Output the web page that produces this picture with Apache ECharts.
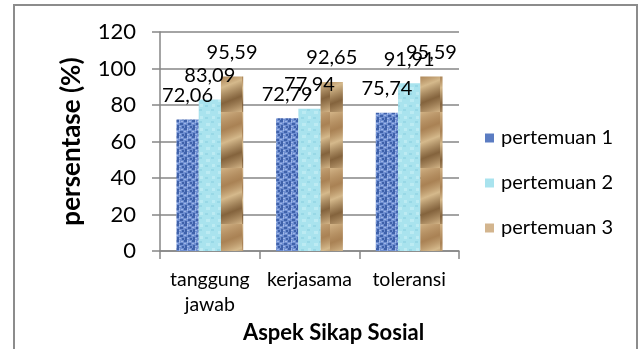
<!DOCTYPE html>
<html>
<head>
<meta charset="utf-8">
<script src="https://cdn.jsdelivr.net/npm/echarts@6/dist/echarts.min.js"></script>
<style>
  html, body { margin: 0; padding: 0; background: #ffffff; }
  #chart { width: 641px; height: 349px; }
</style>
</head>
<body>
<div id="chart"></div>
<script>
// ---- data ----
const categories = ['tanggung\njawab', 'kerjasama', 'toleransi'];
const seriesNames = ['pertemuan 1', 'pertemuan 2', 'pertemuan 3'];
const pertemuan1 = [72.06, 72.79, 75.74];
const pertemuan2 = [83.09, 77.94, 91.91];
const pertemuan3 = [95.59, 92.65, 95.59];
const yTicks = [0, 20, 40, 60, 80, 100, 120];

// ---- textures (decorative fills) ----
function makePattern(kind) {
  const c = document.createElement('canvas');
  if (kind === 'blue') {
    c.width = 8; c.height = 8;
    const g = c.getContext('2d');
    g.fillStyle = '#6f8fd2'; g.fillRect(0, 0, 8, 8);
    g.fillStyle = '#3f61aa';
    g.fillRect(0, 0, 3, 2); g.fillRect(4, 3, 3, 2); g.fillRect(1, 5, 2, 3); g.fillRect(6, 6, 2, 2);
    g.fillStyle = '#9db4e6';
    g.fillRect(3, 0, 1, 3); g.fillRect(0, 3, 2, 1); g.fillRect(5, 1, 2, 1); g.fillRect(3, 6, 2, 1);
  } else if (kind === 'cyan') {
    c.width = 12; c.height = 12;
    const g = c.getContext('2d');
    g.fillStyle = '#a9e3ee'; g.fillRect(0, 0, 12, 12);
    g.fillStyle = '#bcebf3'; g.fillRect(2, 3, 4, 3); g.fillRect(8, 8, 3, 3);
    g.fillStyle = '#98d8e6'; g.fillRect(7, 1, 3, 2); g.fillRect(1, 9, 3, 2);
  } else {
    c.width = 22; c.height = 56;
    const g = c.getContext('2d');
    g.fillStyle = '#b89163'; g.fillRect(0, 0, 22, 56);
    const grd = g.createLinearGradient(0, 0, 22, 56);
    grd.addColorStop(0, 'rgba(215,185,140,0.9)');
    grd.addColorStop(0.3, 'rgba(160,120,75,0.6)');
    grd.addColorStop(0.5, 'rgba(220,195,150,0.8)');
    grd.addColorStop(0.75, 'rgba(110,80,45,0.7)');
    grd.addColorStop(1, 'rgba(215,185,140,0.9)');
    g.fillStyle = grd; g.fillRect(0, 0, 22, 56);
  }
  return { image: c, repeat: 'repeat' };
}
const fills = [makePattern('blue'), makePattern('cyan'), makePattern('tan')];
const legendColors = ['#5b7cc2', '#a9e3ee', '#d3b58e'];

const fmt = p => p.value.toFixed(2).replace('.', ',');
const FONT = 'Lato';
const seriesData = [pertemuan1, pertemuan2, pertemuan3];

const chart = echarts.init(document.getElementById('chart'), null, { renderer: 'canvas' });
chart.setOption({
  animation: false,
  textStyle: { fontFamily: FONT, color: '#000' },
  graphic: [{
    type: 'rect', left: 13, top: 4, z: -1,
    shape: { x: 0, y: 0, width: 623, height: 360 },
    style: { fill: '#fff', stroke: '#8c8c8c', lineWidth: 2 }
  }],
  grid: { left: 160, right: 182, top: 32, bottom: 93, containLabel: false },
  legend: {
    orient: 'vertical', left: 480, top: 123, itemGap: 25,
    itemWidth: 9, itemHeight: 9, icon: 'rect',
    textStyle: { fontFamily: FONT, fontSize: 20, color: '#000', padding: [0, 0, 0, 2] },
    data: seriesNames.map((n, i) => ({ name: n, itemStyle: { color: legendColors[i] } }))
  },
  xAxis: {
    type: 'category', data: categories,
    name: 'Aspek Sikap Sosial', nameLocation: 'middle', nameGap: 60,
    nameTextStyle: { fontFamily: FONT, fontSize: 22, fontWeight: 'bold', color: '#000', padding: [0, 0, 0, 48] },
    axisLine: { lineStyle: { color: '#868686', width: 1.5 } },
    axisTick: { show: true, length: 8, lineStyle: { color: '#868686', width: 1.5 } },
    axisLabel: { interval: 0, hideOverlap: false, fontFamily: FONT, fontSize: 19.5, color: '#000', margin: 16, lineHeight: 25 }
  },
  yAxis: {
    type: 'value', min: 0, max: 120, interval: 20,
    name: 'persentase (%)', nameLocation: 'middle', nameGap: 75,
    nameTextStyle: { fontFamily: FONT, fontSize: 26, fontWeight: 'bold', color: '#000' },
    axisLine: { show: true, lineStyle: { color: '#868686', width: 1.5 } },
    axisTick: { show: true, length: 8, lineStyle: { color: '#868686', width: 1.5 } },
    splitLine: { lineStyle: { color: '#868686', width: 1.5 } },
    axisLabel: {
      fontFamily: FONT, fontSize: 22, color: '#000', margin: 24,
      formatter: v => (yTicks.indexOf(v) >= 0 ? String(v) : '')
    }
  },
  series: seriesNames.map((n, i) => ({
    name: n, type: 'bar', data: seriesData[i],
    barGap: '0%', barCategoryGap: '33%',
    itemStyle: { color: fills[i] },
    label: {
      show: true, position: 'top', distance: 14, formatter: fmt,
      fontFamily: FONT, fontSize: 20, color: '#000'
    }
  }))
});
</script>
</body>
</html>
